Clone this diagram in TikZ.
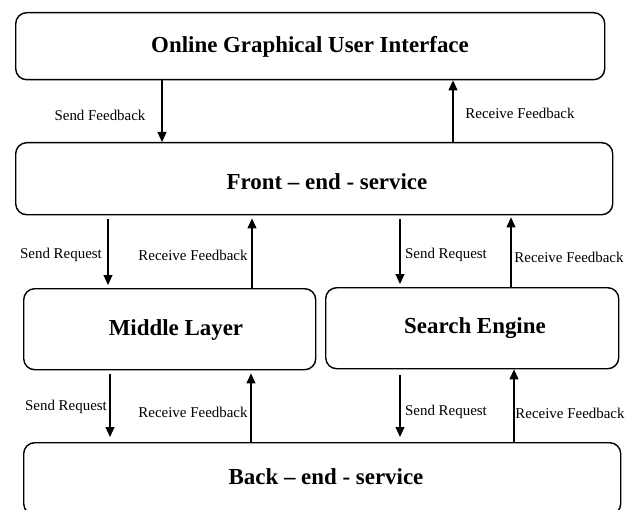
\documentclass[tikz,border=0pt]{standalone}
\usepackage{fontspec}
\setmainfont{Liberation Serif}
\usetikzlibrary{arrows.meta}
\begin{document}
\begin{tikzpicture}[x=1bp,y=-1bp,
  box/.style={draw, line width=1.4bp, rounded corners=11bp, inner sep=0pt, anchor=north west},
  title/.style={font=\fontsize{23}{26}\selectfont\bfseries, inner sep=0pt},
  lab/.style={font=\fontsize{15}{17}\selectfont, inner sep=0pt},
  arr/.style={line width=1.1bp, -{Triangle[length=10bp,width=9bp]}}]
\useasboundingbox (0,0) rectangle (635,510);
% boxes
\node[box, minimum width=589bp, minimum height=67bp] (gui) at (15,12) {};
\node[box, minimum width=597bp, minimum height=72bp] (front) at (15,142) {};
\node[box, minimum width=292bp, minimum height=81bp] (middle) at (23,288) {};
\node[box, minimum width=293bp, minimum height=81bp] (search) at (325,287) {};
\node[box, minimum width=597bp, minimum height=72bp] (back) at (23,442) {};
% titles
\node[title] (guit) at (310,47) {Online Graphical User Interface};
\node[title] (frontt) at (327,182) {Front – end - service};
\node[title] (middlet) at (176,330) {Middle Layer};
\node[title] (searcht) at (475,328) {Search Engine};
\node[title] (backt) at (326,477) {Back – end - service};
% arrow columns
\coordinate (c1) at (162,0);
\coordinate (c2) at (453,0);
\coordinate (c3) at (108,0);
\coordinate (c4) at (252,0);
\coordinate (c5) at (400,0);
\coordinate (c6) at (511,0);
\coordinate (c7) at (110,0);
\coordinate (c8) at (251,0);
\coordinate (c9) at (400,0);
\coordinate (c10) at (514,0);
% arrows
\draw[arr] (gui.south -| c1) -- (front.north -| c1);
\draw[arr] (front.north -| c2) -- (gui.south -| c2);
\draw[arr, shorten <=4bp, shorten >=3bp] (front.south -| c3) -- (middle.north -| c3);
\draw[arr, shorten >=3bp] (middle.north -| c4) -- (front.south -| c4);
\draw[arr, shorten <=4bp, shorten >=3bp] (front.south -| c5) -- (search.north -| c5);
\draw[arr, shorten >=2bp] (search.north -| c6) -- (front.south -| c6);
\draw[arr, shorten <=4bp, shorten >=5bp] (middle.south -| c7) -- (back.north -| c7);
\draw[arr, shorten >=3bp] (back.north -| c8) -- (middle.south -| c8);
\draw[arr, shorten <=6bp, shorten >=5bp] (search.south -| c9) -- (back.north -| c9);
\draw[arr] (back.north -| c10) -- (search.south -| c10);
% labels
\node[lab] (l1) at (100,115) {Send Feedback};
\node[lab] (l2) at (520,113) {Receive Feedback};
\node[lab] (l3) at (61,255) {Send Request};
\node[lab] (l4) at (193,255) {Receive Feedback};
\node[lab] (l5) at (446,255) {Send Request};
\node[lab] (l6) at (569,257) {Receive Feedback};
\node[lab] (l7) at (66,407) {Send Request};
\node[lab] (l8) at (193,412) {Receive Feedback};
\node[lab] (l9) at (446,412) {Send Request};
\node[lab] (l10) at (570,413) {Receive Feedback};
\end{tikzpicture}
\end{document}
